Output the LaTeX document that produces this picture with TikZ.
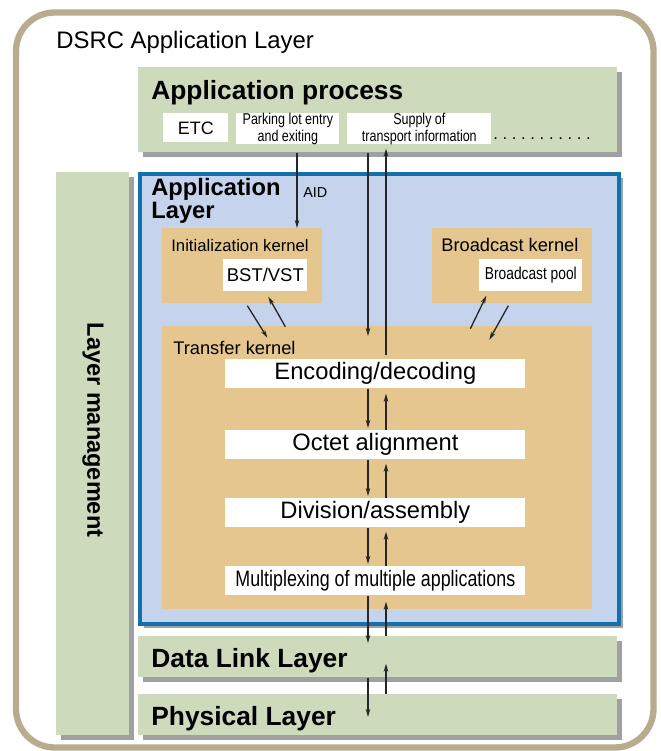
\documentclass[tikz,border=0pt]{standalone}
\usepackage{fontspec}
\setmainfont{Liberation Sans}
\newfontfamily\narrowfont[FakeStretch=0.8]{Liberation Sans}
\usetikzlibrary{calc,shadows,arrows.meta}
\definecolor{dsrcgreen}{RGB}{206,218,188}
\definecolor{dsrctan}{RGB}{228,198,142}
\definecolor{dsrcblue}{RGB}{197,211,236}
\definecolor{dsrcedge}{RGB}{18,112,170}
\definecolor{dsrcgrey}{RGB}{160,160,164}
\definecolor{dsrcframe}{RGB}{184,171,142}
\newcommand{\upx}{0.02cm}
\newcommand{\fsz}[1]{\fontsize{#1}{#1}\selectfont}
\tikzset{
	greenbox/.style={fill=dsrcgreen, inner sep=0, anchor=north west,
		drop shadow={shadow xshift=2.8pt, shadow yshift=-2.8pt, fill=dsrcgrey, opacity=1}},
	tanbox/.style={fill=dsrctan, inner sep=0, anchor=north west},
	whitebox/.style={fill=white, inner sep=0, anchor=north west, align=center},
	lbl/.style={inner sep=0, anchor=base west},
	arr/.style={-{Stealth[length=4.6pt,width=2.6pt]}, line width=0.75pt, black!85}
}

\begin{document}
\begin{tikzpicture}[x=0.02cm,y=-0.02cm]
		\useasboundingbox (0,0) rectangle (660,751);
		\draw[dsrcframe, line width=3.6pt, rounded corners=22pt] (16,12.5) rectangle (653.5,747.5);
		\node[lbl, font=\fsz{13.6}] (dsrc) at (56,48) {DSRC Application Layer};
		% application process
		\node[greenbox, minimum width=479*\upx, minimum height=85*\upx] (ap) at (138,67) {};
		\node[lbl, font=\bfseries\fsz{15}] (aptitle) at (151,99) {Application process};
		\node[whitebox, minimum width=65*\upx, minimum height=29*\upx, font=\fsz{10.2}] (etc) at (163,113) {ETC};
		\node[whitebox, minimum width=103*\upx, minimum height=29*\upx, font=\narrowfont\fontsize{8.9}{6.9}\selectfont] (park) at (236,113) {Parking lot entry\\and exiting};
		\node[whitebox, minimum width=144*\upx, minimum height=29*\upx, font=\narrowfont\fontsize{8.9}{6.9}\selectfont] (sup) at (347,113) {Supply of\\transport information};
		\node[lbl, font=\frenchspacing\fsz{9.5}] (dots) at (493,139) {. . . . . . . . . . .};
		% layer management
		\node[greenbox, minimum width=73*\upx, minimum height=563*\upx] (lm) at (56,172) {};
		\node[inner sep=0, rotate=-90, font=\bfseries\fsz{13.4}] (lmtitle) at (93,430) {Layer management};
		% application layer
		\node[fill=dsrcblue, draw=dsrcedge, line width=2.8pt, inner sep=0, anchor=north west,
			minimum width=479*\upx, minimum height=450*\upx,
			drop shadow={shadow xshift=2.4pt, shadow yshift=-2.4pt, fill=dsrcgrey, opacity=1}] (al) at (137.5,171.5) {};
		\node[lbl, align=left, font=\bfseries\fontsize{13.5}{11.9}\selectfont] (altitle) at (151,218) {Application\\Layer};
		\node[lbl, font=\fsz{8.2}] (aidlbl) at (303,197) {AID};
		\node[tanbox, minimum width=160*\upx, minimum height=75*\upx] (init) at (162,228) {};
		\node[lbl, font=\fsz{9.5}] (inittitle) at (171,251) {Initialization kernel};
		\node[whitebox, minimum width=84*\upx, minimum height=32*\upx, font=\fsz{10.5}] (bst) at (223,259) {BST/VST};
		\node[tanbox, minimum width=160*\upx, minimum height=75*\upx] (bk) at (432,228) {};
		\node[lbl, font=\fsz{10.4}] (bktitle) at (441,251) {Broadcast kernel};
		\node[whitebox, minimum width=103*\upx, minimum height=32*\upx, font=\narrowfont\fsz{9.8}] (pool) at (479,259) {Broadcast pool};
		\node[tanbox, minimum width=430*\upx, minimum height=283*\upx] (xfer) at (162,326) {};
		\node[lbl, font=\fsz{10.4}] (xfertitle) at (173,354) {Transfer kernel};
		\node[whitebox, minimum width=300*\upx, minimum height=29*\upx, font=\fsz{13.5}] (enc) at (225,359) {Encoding/decoding};
		\node[whitebox, minimum width=300*\upx, minimum height=29*\upx, font=\fsz{13.5}] (oct) at (225,430) {Octet alignment};
		\node[whitebox, minimum width=300*\upx, minimum height=29*\upx, font=\fsz{13.5}] (div) at (225,498) {Division/assembly};
		\node[whitebox, minimum width=300*\upx, minimum height=29*\upx, font=\narrowfont\fsz{12.7}] (mux) at (225,566) {Multiplexing of multiple applications};
		% lower layers
		\node[greenbox, minimum width=479*\upx, minimum height=41*\upx] (dll) at (138,636) {};
		\node[lbl, font=\bfseries\fsz{15}] (dlltitle) at (151,667) {Data Link Layer};
		\node[greenbox, minimum width=479*\upx, minimum height=41*\upx] (phy) at (138,694) {};
		\node[lbl, font=\bfseries\fsz{15}] (phytitle) at (151,725) {Physical Layer};
		% arrows
		\coordinate (aid) at (297,0);
		\coordinate (dn) at (368,0);
		\coordinate (up) at (386,0);
		\draw[arr] (aid |- ap.south) -- (aid |- init.north);
		\draw[arr] (dn |- ap.south) -- ($(dn |- xfer.north)+(0,10)$);
		\draw[arr] ($(up |- enc.north)+(0,-4)$) -- ($(up |- sup.south)+(0,4)$);
		\draw[arr] (dn |- enc.south) -- ($(dn |- oct.north)+(0,-2)$);
		\draw[arr] (up |- oct.north) -- ($(up |- enc.south)+(0,5)$);
		\draw[arr] (dn |- oct.south) -- ($(dn |- div.north)+(0,-2)$);
		\draw[arr] (up |- div.north) -- ($(up |- oct.south)+(0,4)$);
		\draw[arr] (dn |- div.south) -- ($(dn |- mux.north)+(0,-2)$);
		\draw[arr] (up |- mux.north) -- ($(up |- div.south)+(0,4)$);
		\draw[arr] (dn |- mux.south) -- ($(dn |- dll.north)+(0,7)$);
		\draw[arr] (up |- dll.north) -- ($(up |- mux.south)+(0,6)$);
		\draw[arr] (dn |- dll.south) -- ($(dn |- phy.north)+(0,23)$);
		\draw[arr] (up |- phy.north) -- ($(up |- dll.south)+(0,-14)$);
		\draw[arr] ($(init.south)+(5,2)$) -- ($(init.south)+(25,34)$);
		\draw[arr] ($(init.south)+(43,23)$) -- ($(bst.south)+(3,5)$);
		\draw[arr] ($(bk.south)+(-42,25)$) -- ($(bk.south)+(-26,-8)$);
		\draw[arr] ($(bk.south)+(-4,2)$) -- ($(bk.south)+(-23,36)$);
\end{tikzpicture}
\end{document}
